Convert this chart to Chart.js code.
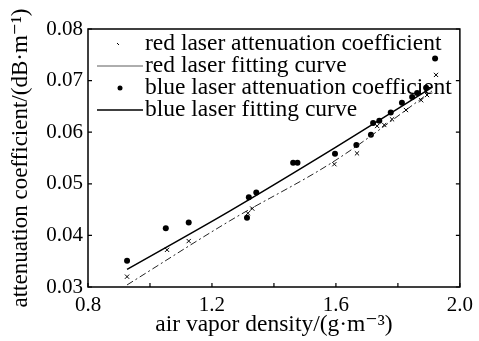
<!DOCTYPE html>
<html>
<head>
<meta charset="utf-8">
<script src="https://cdn.jsdelivr.net/npm/chart.js@4"></script>
<style>
  html, body { margin: 0; padding: 0; background: #fff; }
  #wrap { width: 479px; height: 341px; }
</style>
</head>
<body>
<div id="wrap"><canvas id="c"></canvas></div>
<script>
// data
var redX = [0.926, 1.055, 1.125, 1.316, 1.33, 1.595, 1.668, 1.733, 1.756, 1.781, 1.826, 1.875, 1.894, 1.923];
var redY = [0.032, 0.0372, 0.0389, 0.0443, 0.0452, 0.0538, 0.0559, 0.0612, 0.0614, 0.0625, 0.0643, 0.0662, 0.0672, 0.0711];
var blueX = [0.926, 1.051, 1.125, 1.313, 1.319, 1.343, 1.462, 1.476, 1.597, 1.666, 1.713, 1.72, 1.74, 1.777, 1.813, 1.846, 1.862, 1.891, 1.92];
var blueY = [0.0351, 0.0414, 0.0425, 0.0434, 0.0474, 0.0483, 0.0541, 0.0541, 0.0558, 0.0575, 0.0595, 0.0618, 0.0622, 0.0638, 0.0657, 0.0668, 0.0676, 0.0686, 0.0743];
// fitting curves
var fitX = [0.926, 1.257, 1.6, 1.91];
var redFitY = [0.0304, 0.0428, 0.0546, 0.068];
var blueFitY = [0.0334, 0.0447, 0.0571, 0.0687];

var labels = [
  "red laser attenuation coefficient",
  "red laser fitting curve",
  "blue laser attenuation coefficient",
  "blue laser fitting curve"
];

function pts(xs, ys) {
  return xs.map(function (x, i) { return { x: x, y: ys[i] }; });
}

var serif = "'Liberation Serif', 'DejaVu Serif', serif";

// frame, inward ticks and legend
var framePlugin = {
  id: "frame",
  afterDraw: function (chart) {
    var ctx = chart.ctx;
    var a = chart.chartArea;
    var xs = chart.scales.x, ys = chart.scales.y;
    ctx.save();
    ctx.strokeStyle = "#000";
    ctx.lineWidth = 1.5;
    ctx.strokeRect(a.left, a.top, a.right - a.left, a.bottom - a.top);
    ctx.lineWidth = 1.2;
    ctx.beginPath();
    xs.ticks.forEach(function (t) {
      var px = xs.getPixelForValue(t.value);
      ctx.moveTo(px, a.bottom);
      ctx.lineTo(px, a.bottom - 4);
    });
    ys.ticks.forEach(function (t) {
      var py = ys.getPixelForValue(t.value);
      ctx.moveTo(a.left, py);
      ctx.lineTo(a.left + 4, py);
      ctx.moveTo(a.right, py);
      ctx.lineTo(a.right - 4, py);
    });
    ctx.stroke();

    // legend
    var rowY = [44, 66, 88, 110];
    var x0 = a.left + 9, x1 = a.left + 55, mid = (x0 + x1) / 2;
    ctx.font = "23.5px " + serif;
    ctx.fillStyle = "#000";
    ctx.textBaseline = "middle";
    ctx.textAlign = "left";
    labels.forEach(function (lab, i) {
      var y = rowY[i];
      ctx.strokeStyle = "#000";
      if (i === 0) {
        ctx.lineWidth = 1;
        ctx.beginPath();
        ctx.moveTo(mid - 3, y - 1); ctx.lineTo(mid - 1, y + 1);
        ctx.stroke();
      } else if (i === 2) {
        ctx.beginPath();
        ctx.arc(mid, y, 2.5, 0, Math.PI * 2);
        ctx.fill();
      } else {
        ctx.lineWidth = i === 1 ? 0.8 : 1.5;
        ctx.strokeStyle = i === 1 ? "#333" : "#000";
        ctx.beginPath();
        ctx.moveTo(x0, y); ctx.lineTo(x1, y);
        ctx.stroke();
      }
      ctx.fillText(lab, x1 + 2, y);
    });
    ctx.restore();
  }
};

new Chart(document.getElementById("c"), {
  type: "scatter",
  data: {
    datasets: [
      {
        label: labels[0],
        data: pts(redX, redY),
        pointStyle: "crossRot",
        pointRadius: 3,
        borderColor: "#000",
        borderWidth: 1,
        backgroundColor: "#000"
      },
      {
        label: labels[1],
        type: "line",
        data: pts(fitX, redFitY),
        borderColor: "#222",
        borderWidth: 1,
        borderDash: [7, 3, 2, 3],
        cubicInterpolationMode: "monotone",
        pointRadius: 0,
        fill: false
      },
      {
        label: labels[2],
        data: pts(blueX, blueY),
        pointStyle: "circle",
        pointRadius: 3,
        borderWidth: 0,
        backgroundColor: "#000"
      },
      {
        label: labels[3],
        type: "line",
        data: pts(fitX, blueFitY),
        borderColor: "#000",
        borderWidth: 1.5,
        cubicInterpolationMode: "monotone",
        pointRadius: 0,
        fill: false
      }
    ]
  },
  options: {
    responsive: true,
    maintainAspectRatio: false,
    animation: false,
    layout: { padding: { left: 0, right: 18, top: 29, bottom: 0 } },
    plugins: {
      legend: { display: false },
      tooltip: { enabled: false }
    },
    scales: {
      x: {
        type: "linear",
        min: 0.8,
        max: 2.0,
        afterFit: function (s) { s.height = 54; },
        grid: { display: false, drawTicks: false },
        border: { display: false },
        ticks: {
          stepSize: 0.2,
          padding: 6,
          color: "#000",
          maxRotation: 0,
          autoSkip: false,
          font: { family: serif, size: 21 },
          callback: function (v, i) { return i % 2 === 0 ? v.toFixed(1) : ""; }
        },
        title: {
          display: true,
          text: "air vapor density/(g\u00B7m\u207B\u00B3)",
          color: "#000",
          font: { family: serif, size: 23.5 },
          padding: { top: 0, bottom: 2 }
        }
      },
      y: {
        min: 0.03,
        max: 0.08,
        afterFit: function (s) { s.width = 88; },
        grid: { display: false, drawTicks: false },
        border: { display: false },
        ticks: {
          stepSize: 0.01,
          padding: 5,
          color: "#000",
          font: { family: serif, size: 21 },
          callback: function (v) { return v.toFixed(2); }
        },
        title: {
          display: true,
          text: "attenuation coefficient/(dB\u00B7m\u207B\u00B9)",
          color: "#000",
          font: { family: serif, size: 23 },
          padding: { top: 7, bottom: 0 }
        }
      }
    }
  },
  plugins: [framePlugin]
});
</script>
</body>
</html>
